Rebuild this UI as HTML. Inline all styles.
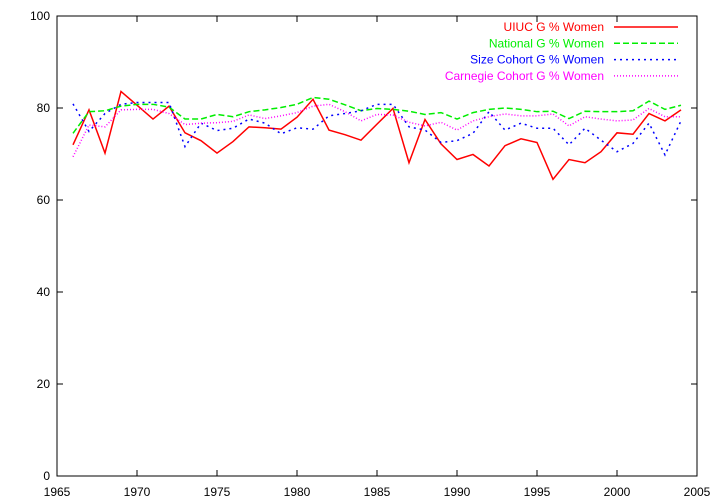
<!DOCTYPE html>
<html><head><meta charset="utf-8"><style>
body{margin:0;background:#fff}
svg{display:block;font-family:"Liberation Sans",sans-serif;font-size:12px}
</style></head><body>
<svg id="chart" width="720" height="504">
<rect x="57" y="16" width="640" height="460" fill="none" stroke="#000" stroke-width="1"/>
<g id="axes"></g><g id="series"></g><g id="legend"></g>
</svg>
<script>
const years=[1966,1967,1968,1969,1970,1971,1972,1973,1974,1975,1976,1977,1978,1979,1980,1981,1982,1983,1984,1985,1986,1987,1988,1989,1990,1991,1992,1993,1994,1995,1996,1997,1998,1999,2000,2001,2002,2003,2004];
const uiuc=[72.0,79.6,70.2,83.6,80.6,77.6,80.4,74.6,72.9,70.2,72.7,75.9,75.7,75.4,78.0,81.9,75.2,74.2,73.0,76.5,79.9,68.1,77.5,72.2,68.8,69.9,67.4,71.8,73.3,72.5,64.5,68.8,68.1,70.5,74.6,74.3,78.8,77.2,79.6];
const national=[74.5,79.2,79.4,80.4,80.8,80.8,80.2,77.6,77.6,78.6,78.1,79.2,79.6,80.1,80.8,82.3,81.9,80.7,79.4,79.9,79.7,79.3,78.6,79.0,77.6,79.0,79.7,80.0,79.7,79.2,79.3,77.7,79.3,79.2,79.2,79.4,81.5,79.7,80.6];
const sizeCohort=[80.9,74.9,78.8,80.8,81.2,81.2,81.2,71.6,76.7,75.1,75.6,77.6,76.7,74.4,75.7,75.4,78.3,78.8,79.4,80.8,80.8,75.9,75.2,72.5,72.9,74.5,79.2,75.2,76.7,75.6,75.6,72.0,75.6,73.0,70.5,72.3,76.7,69.8,77.2];
const carnegie=[69.4,76.3,75.9,79.6,79.7,79.7,78.8,76.4,76.7,76.8,77.1,78.5,77.7,78.3,79.0,80.4,80.8,79.2,77.2,78.6,78.5,76.9,76.1,76.9,75.2,77.2,78.1,78.7,78.3,78.3,78.7,76.1,78.1,77.6,77.2,77.4,79.9,78.1,78.1];
const xTicks=[1965,1970,1975,1980,1985,1990,1995,2000,2005];
const yTicks=[0,20,40,60,80,100];
const seriesNames=["UIUC G % Women","National G % Women","Size Cohort G % Women","Carnegie Cohort G % Women"];
const NS="http://www.w3.org/2000/svg";
const X=v=>57+(v-1965)*640/40, Y=v=>476-v*460/100;
function mk(t,a,p){const e=document.createElementNS(NS,t);for(const k in a)e.setAttribute(k,a[k]);p.appendChild(e);return e;}
const axes=document.getElementById('axes');
xTicks.forEach(t=>{
 const g=mk('g',{},axes);
 
 
 mk('line',{x1:X(t),x2:X(t),y1:476,y2:470,stroke:'#000'},g);
 mk('line',{x1:X(t),x2:X(t),y1:16,y2:22,stroke:'#000'},g);
 const tx=mk('text',{x:X(t),y:496,'text-anchor':'middle'},g);tx.textContent=t;
});
yTicks.forEach(t=>{
 const g=mk('g',{},axes);
 
 
 mk('line',{x1:57,x2:63,y1:Y(t),y2:Y(t),stroke:'#000'},g);
 mk('line',{x1:697,x2:691,y1:Y(t),y2:Y(t),stroke:'#000'},g);
 const tx=mk('text',{x:50,y:Y(t)+4,'text-anchor':'end'},g);tx.textContent=t;
});
const styles=[{c:'#ff0000',d:''},{c:'#00ee00',d:'6,3'},{c:'#0000ff',d:'2,4'},{c:'#ff00ff',d:'1,2'}];
const data=[uiuc,national,sizeCohort,carnegie];
const sg=document.getElementById('series'), lg=document.getElementById('legend');
data.forEach((arr,i)=>{
 const p=mk('polyline',{points:years.map((y,j)=>X(y)+','+Y(arr[j])).join(' '),fill:'none',stroke:styles[i].c,'stroke-width':1.5,'stroke-dasharray':styles[i].d},sg);
 
 
 const ly=27+i*16.3;
 const g=mk('g',{},lg);
 
 
 const t=mk('text',{x:604,y:ly+4,'text-anchor':'end',fill:styles[i].c},g);t.textContent=seriesNames[i];
 mk('line',{x1:614,x2:678,y1:ly,y2:ly,stroke:styles[i].c,'stroke-width':1.5,'stroke-dasharray':styles[i].d},g);
});
</script>
</body></html>
